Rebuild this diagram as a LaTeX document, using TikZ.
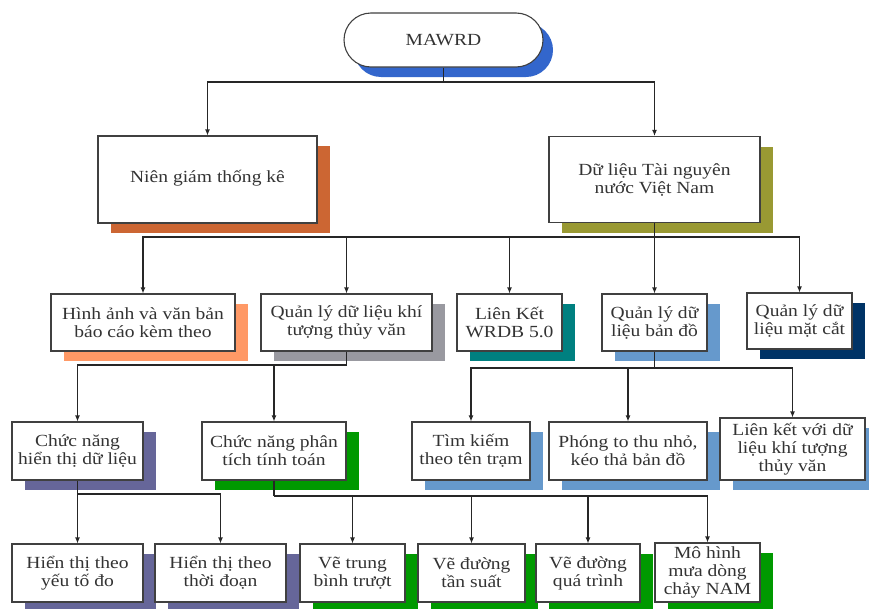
\documentclass[tikz,border=0pt]{standalone}
\usepackage{fontspec}
\setmainfont{Liberation Serif}[FakeStretch=1.15]
\usetikzlibrary{arrows.meta,shadows}
\definecolor{cblue}{HTML}{3366CC}
\definecolor{crust}{HTML}{CC6633}
\definecolor{colive}{HTML}{999933}
\definecolor{csalmon}{HTML}{FF9966}
\definecolor{cgray}{HTML}{9999A0}
\definecolor{cteal}{HTML}{008080}
\definecolor{clblue}{HTML}{6699CC}
\definecolor{cnavy}{HTML}{003366}
\definecolor{cpurple}{HTML}{666699}
\definecolor{cgreen}{HTML}{009900}
\begin{document}
\begin{tikzpicture}[x=1pt,y=-1pt,
  box/.style={draw=black!75, line width=1.1pt, fill=white, align=center, inner sep=0pt,
    text=black!80, font=\fontsize{17}{18}\selectfont},
  shad/.style={general shadow={fill=#1, shadow xshift=13pt, shadow yshift=-10pt}},
  conn/.style={draw=black!85, line width=1.1pt},
  arr/.style={conn, -{Latex[length=6pt,width=5pt]}}]
\useasboundingbox (0,0) rectangle (869,608);

% level 0
\node[box, rounded corners=27pt, general shadow={fill=cblue, shadow xshift=10pt, shadow yshift=-10pt},
  minimum width=199pt, minimum height=54pt] (mawrd) at (443.5,40) {MAWRD};

% level 1
\node[box, shad=crust, minimum width=219pt, minimum height=87pt] (nien) at (207.5,179.5)
  {\raisebox{7pt}{Niên giám thống kê}};
\node[box, shad=colive, minimum width=211pt, minimum height=86pt] (dlieu) at (654.5,179.5)
  {Dữ liệu Tài nguyên\\nước Việt Nam};

% level 2
\node[box, shad=csalmon, minimum width=184pt, minimum height=57pt] (hinh) at (143,322.5)
  {Hình ảnh và văn bản\\báo cáo kèm theo};
\node[box, shad=cgray, minimum width=171pt, minimum height=57pt] (kttv) at (346.5,322.5)
  {Quản lý dữ liệu khí\\tượng thủy văn};
\node[box, shad=cteal, minimum width=105pt, minimum height=57pt] (wrdb) at (509.5,322.5)
  {Liên Kết\\WRDB 5.0};
\node[box, shad=clblue, minimum width=105pt, minimum height=57pt] (bando) at (654.5,322.5)
  {Quản lý dữ\\liệu bản đồ};
\node[box, shad=cnavy, minimum width=105pt, minimum height=56pt] (matcat) at (799.5,321)
  {Quản lý dữ\\liệu mặt cắt};

% level 3
\node[box, shad=cpurple, minimum width=131pt, minimum height=58pt] (hthi) at (77.5,451)
  {Chức năng\\hiển thị dữ liệu};
\node[box, shad=cgreen, minimum width=144pt, minimum height=58pt] (ptich) at (274,451)
  {Chức năng phân\\tích tính toán};
\node[box, shad=clblue, minimum width=118pt, minimum height=58pt] (timk) at (471,451)
  {Tìm kiếm\\theo tên trạm};
\node[box, shad=clblue, minimum width=158pt, minimum height=58pt] (phong) at (628,451)
  {Phóng to thu nhỏ,\\kéo thả bản đồ};
\node[box, shad=clblue, minimum width=145pt, minimum height=62pt] (lkv) at (792.5,449)
  {Liên kết với dữ\\liệu khí tượng\\thủy văn};

% level 4
\node[box, shad=cpurple, minimum width=131pt, minimum height=58pt] (yeuto) at (77.5,573)
  {Hiển thị theo\\yếu tố đo};
\node[box, shad=cpurple, minimum width=131pt, minimum height=58pt] (thoid) at (220.5,573)
  {Hiển thị theo\\thời đoạn};
\node[box, shad=cgreen, minimum width=105pt, minimum height=58pt] (tbtr) at (352.5,573)
  {Vẽ trung\\bình trượt};
\node[box, shad=cgreen, minimum width=107pt, minimum height=58pt] (tans) at (471.5,573)
  {Vẽ đường\\tần suất};
\node[box, shad=cgreen, minimum width=104pt, minimum height=58pt] (qtr) at (588,573)
  {Vẽ đường\\quá trình};
\node[box, shad=cgreen, minimum width=105pt, minimum height=59pt] (nam) at (707.5,572.5)
  {Mô hình\\mưa dòng\\chảy NAM};

% junctions
\coordinate (j0) at (443.5,82);
\coordinate (j1) at (654.5,237);
\coordinate (j2) at (346.5,365);
\coordinate (j3) at (654.5,368);
\coordinate (j4) at (77.5,494);
\coordinate (j5) at (274,496);

% connectors
\draw[conn] (mawrd.south) -- (j0);
\draw[arr] (j0) -| (nien.north);
\draw[arr] (j0) -| (dlieu.north);

\draw[conn] (dlieu.south) -- (j1);
\draw[arr] (j1) -| (hinh.north);
\draw[arr] (j1) -| (kttv.north);
\draw[arr] (j1) -| (wrdb.north);
\draw[arr] (j1) -- (bando.north);
\draw[arr] (j1) -| (matcat.north);

\draw[conn] (kttv.south) -- (j2);
\draw[arr] (j2) -| (hthi.north);
\draw[arr] (j2) -| (ptich.north);

\draw[conn] (bando.south) -- (j3);
\draw[arr] (j3) -| (timk.north);
\draw[arr] (j3) -| (phong.north);
\draw[arr] (j3) -| (lkv.north);

\draw[conn] (hthi.south) -- (j4);
\draw[arr] (j4) -- (yeuto.north);
\draw[arr] (j4) -| (thoid.north);

\draw[conn] (ptich.south) -- (j5);
\draw[arr] (j5) -| (tbtr.north);
\draw[arr] (j5) -| (tans.north);
\draw[arr] (j5) -| (qtr.north);
\draw[arr] (j5) -| (nam.north);
\end{tikzpicture}
\end{document}
